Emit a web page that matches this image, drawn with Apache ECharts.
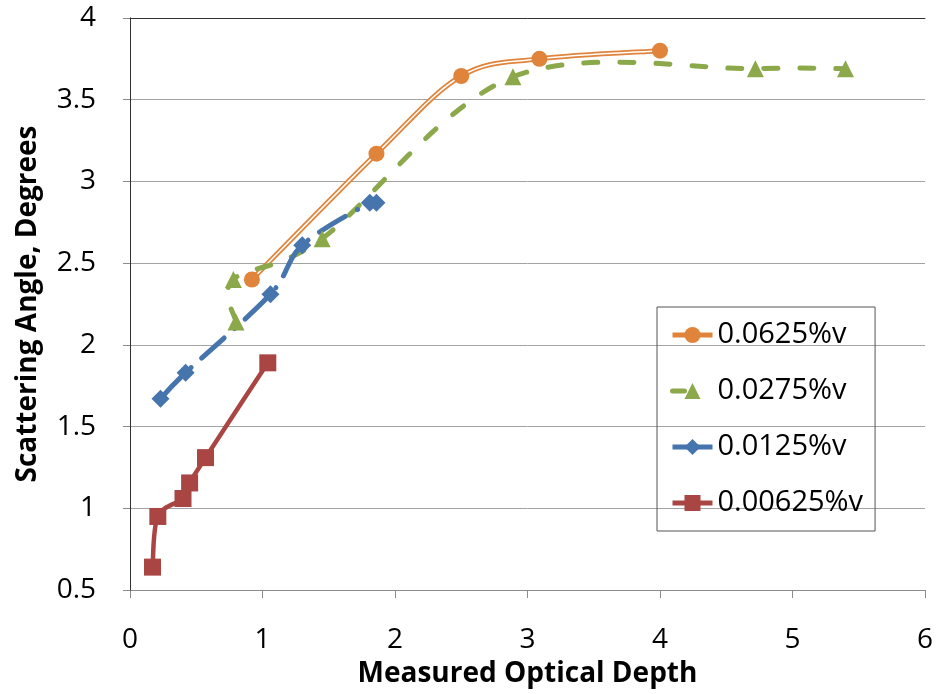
<!DOCTYPE html>
<html>
<head>
<meta charset="utf-8">
<script src="https://cdn.jsdelivr.net/npm/echarts@6/dist/echarts.min.js"></script>
<style>
  html, body { margin: 0; padding: 0; background: #fff; }
  #chart { width: 937px; height: 694px; }
</style>
</head>
<body>
<div id="chart"></div>
<script>
// values
const xTicks = [0, 1, 2, 3, 4, 5, 6]
const yTicks = [0.5, 1, 1.5, 2, 2.5, 3, 3.5, 4]

const orangeX = [0.92, 1.86, 2.50, 3.09, 4.00]
const orangeY = [2.40, 3.17, 3.645, 3.75, 3.80]

const greenX = [0.80, 0.78, 1.45, 2.89, 4.72, 5.40]
const greenY = [2.14, 2.40, 2.65, 3.64, 3.69, 3.69]

const blueX = [0.23, 0.42, 1.06, 1.30, 1.81, 1.86]
const blueY = [1.67, 1.83, 2.31, 2.61, 2.87, 2.87]

const redX = [0.17, 0.21, 0.40, 0.45, 0.57, 1.04]
const redY = [0.64, 0.95, 1.06, 1.155, 1.31, 1.89]

const names = ['0.0625%v', '0.0275%v', '0.0125%v', '0.00625%v']

const ORANGE = '#E0843B'
const GREEN = '#8BA84A'
const BLUE = '#4674AD'
const RED = '#A94643'
const FONT = 'Open Sans'

const GREEN_DASH = [14, 22]
const BLUE_DASH = [30, 14, 0.1, 14]

const zip = (xs, ys) => xs.map((x, i) => [x, ys[i]])

// smoothed curve like the spreadsheet one (catmull-rom through the points, in pixels)
const curvePath = (api, xs, ys) => {
  const p = xs.map((x, i) => api.coord([x, ys[i]]))
  let d = 'M' + p[0][0] + ' ' + p[0][1]
  for (let i = 0; i < p.length - 1; i++) {
    const p0 = p[i - 1] || p[i]
    const p1 = p[i]
    const p2 = p[i + 1]
    const p3 = p[i + 2] || p[i + 1]
    const c1x = p1[0] + (p2[0] - p0[0]) / 6
    const c1y = p1[1] + (p2[1] - p0[1]) / 6
    const c2x = p2[0] - (p3[0] - p1[0]) / 6
    const c2y = p2[1] - (p3[1] - p1[1]) / 6
    d += ' C' + c1x + ' ' + c1y + ' ' + c2x + ' ' + c2y + ' ' + p2[0] + ' ' + p2[1]
  }
  return d
}

const curveSeries = (xs, ys, strokes) => ({
  type: 'custom',
  silent: true,
  data: zip(xs, ys),
  encode: { x: 0, y: 1 },
  z: 2,
  renderItem: (params, api) => {
    if (params.dataIndex !== 0) return null
    const d = curvePath(api, xs, ys)
    return {
      type: 'group',
      children: strokes.map((s) => ({
        type: 'path',
        shape: { pathData: d },
        style: {
          fill: 'none',
          stroke: s.color,
          lineWidth: s.width,
          lineDash: s.dash || null,
          lineCap: 'round',
          lineJoin: 'round'
        }
      }))
    }
  }
})

const markerSeries = (name, xs, ys, symbol, size, color) => ({
  name: name,
  type: 'line',
  data: zip(xs, ys),
  symbol: symbol,
  symbolSize: size,
  itemStyle: { color: color },
  lineStyle: { color: color, opacity: 0 },
  z: 3
})

const chart = echarts.init(document.getElementById('chart'))

const option = {
  animation: false,
  grid: { left: 130, right: 12, top: 18, bottom: 104 },
  legend: {
    orient: 'vertical',
    left: 657,
    top: 307,
    data: [
      { name: names[0], lineStyle: { opacity: 1, width: 5 } },
      { name: names[1], lineStyle: { opacity: 1, width: 5, type: [12, 40], cap: 'round' } },
      { name: names[2], lineStyle: { opacity: 1, width: 5 } },
      { name: names[3], lineStyle: { opacity: 1, width: 5 } }
    ],
    borderColor: '#555',
    borderWidth: 1,
    padding: [13, 12, 13, 13],
    itemWidth: 40,
    itemHeight: 20,
    itemGap: 26,
    textStyle: { fontFamily: FONT, fontSize: 29, color: '#000', lineHeight: 30 }
  },
  xAxis: [
    {
      type: 'value',
      min: xTicks[0],
      max: xTicks[xTicks.length - 1],
      interval: 1,
      name: 'Measured Optical Depth',
      nameLocation: 'middle',
      nameGap: 70,
      nameTextStyle: { fontFamily: FONT, fontSize: 28, fontWeight: 'bold', color: '#000' },
      axisLine: { show: true, onZero: false, lineStyle: { color: '#8c8c8c' } },
      axisTick: { show: true, inside: false, length: 8, lineStyle: { color: '#8c8c8c' } },
      axisLabel: { margin: 36, fontFamily: FONT, fontSize: 28, color: '#000' },
      splitLine: { show: false }
    },
    {
      type: 'value',
      position: 'top',
      min: xTicks[0],
      max: xTicks[xTicks.length - 1],
      z: 5,
      axisLine: { show: true, lineStyle: { color: '#333' } },
      axisTick: { show: false },
      axisLabel: { show: false },
      splitLine: { show: false }
    }
  ],
  yAxis: [
    {
      type: 'value',
      min: yTicks[0],
      max: yTicks[yTicks.length - 1],
      interval: 0.5,
      name: 'Scattering Angle, Degrees',
      nameLocation: 'middle',
      nameGap: 88,
      nameTextStyle: { fontFamily: FONT, fontSize: 28, fontWeight: 'bold', color: '#000' },
      axisLine: { show: true, onZero: false, lineStyle: { color: '#8c8c8c' } },
      axisTick: { show: true, length: 7, lineStyle: { color: '#8c8c8c' } },
      axisLabel: { margin: 34, fontFamily: FONT, fontSize: 28, color: '#000' },
      splitLine: { show: true, lineStyle: { color: '#a3a3a3', width: 1 } }
    },
    {
      type: 'value',
      position: 'right',
      min: yTicks[0],
      max: yTicks[yTicks.length - 1],
      z: 5,
      axisLine: { show: true, lineStyle: { color: '#333' } },
      axisTick: { show: false },
      axisLabel: { show: false },
      splitLine: { show: false }
    }
  ],
  series: [
    // lines
    curveSeries(orangeX, orangeY, [{ color: ORANGE, width: 5 }, { color: '#fff', width: 1.5 }]),
    curveSeries(greenX, greenY, [{ color: GREEN, width: 5, dash: GREEN_DASH }]),
    curveSeries(blueX, blueY, [{ color: BLUE, width: 5, dash: BLUE_DASH }]),
    curveSeries(redX, redY, [{ color: RED, width: 4.5 }]),
    // markers
    markerSeries(names[0], orangeX, orangeY, 'circle', 16, ORANGE),
    markerSeries(names[1], greenX, greenY, 'triangle', 17, GREEN),
    markerSeries(names[2], blueX, blueY, 'diamond', 18, BLUE),
    markerSeries(names[3], redX, redY, 'rect', 17, RED)
  ]
}

chart.setOption(option)
</script>
</body>
</html>
